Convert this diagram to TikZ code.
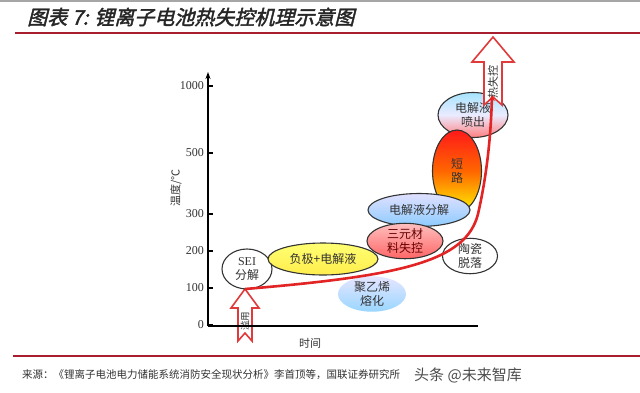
\documentclass[tikz,border=0pt]{standalone}
\usepackage{fontspec}
\setmainfont{Liberation Serif}
\newfontfamily\cjk{Noto Sans CJK SC}
\newfontfamily\cjktitle[FakeSlant=0.25,FakeBold=2]{Noto Sans CJK SC}
\usetikzlibrary{shapes.geometric,arrows.meta}
\definecolor{darkred}{HTML}{A81E2E}
\definecolor{curvered}{HTML}{E22424}
\definecolor{arrowred}{HTML}{E03A3A}
\definecolor{txt}{HTML}{333333}
\tikzset{
  ell/.style={ellipse, inner sep=0pt, draw=txt, line width=1.1pt, align=center,
    text=txt, font=\fontsize{12}{14}\selectfont\cjk},
  tick/.style={font=\fontsize{12}{12}\selectfont, text=txt, anchor=east, inner sep=1pt},
  hollow/.style={draw=arrowred, line width=1.6pt, fill=white, line join=miter},
}
\begin{document}
\begin{tikzpicture}[x=1pt,y=-1pt]
\useasboundingbox (0,0) rectangle (640,392);
\fill[white] (0,0) rectangle (640,392);
\fill[gray!70] (0,0) rectangle (640,2);
% title
\node[anchor=west, inner sep=0pt, text=black!85, font=\fontsize{20}{22}\selectfont\cjktitle] (title) at (27,17) {图表 7: 锂离子电池热失控机理示意图};
\coordinate (tl) at (15,33); \coordinate (tr) at (640,33);
\draw[darkred, line width=1.2pt] (tl) -- (tr);
% footer
\coordinate (bl) at (13,356); \coordinate (br) at (640,356);
\draw[darkred, line width=1.2pt] (bl) -- (br);
\node[anchor=west, inner sep=0pt, text=txt, font=\fontsize{10.5}{12}\selectfont\cjk] (src) at (22,375) {来源：《锂离子电池电力储能系统消防安全现状分析》李首顶等，国联证券研究所};
\node[anchor=west, inner sep=0pt, text=black!70, font=\fontsize{15}{16}\selectfont\cjk] (wm) at (414,375) {头条 @未来智库};

% bottom hollow arrow (abuse)
\draw[hollow] (245,289) -- (231,308) -- (238,308) -- (238,341) -- (245,333) -- (252,341) -- (252,308) -- (259,308) -- cycle;
\node[rotate=90, inner sep=0pt, text=txt, font=\fontsize{9.5}{10}\selectfont\cjk] (abuse) at (245,321) {滥用};

% axes
\coordinate (o) at (208,326);
\coordinate (ytop) at (208,72);
\coordinate (xend) at (478,326);
\draw[black, line width=1.4pt, -{Stealth[length=7pt,width=5pt]}] (o) -- (ytop);
\draw[black, line width=1.4pt] (o) -- (xend);
\foreach \v/\y in {1000/86, 500/153, 300/214, 200/251, 100/288, 0/325}{
  \draw[black, line width=1.1pt] (208,\y) -- (213,\y);
  \node[tick] (t\v) at (205,\y) {\v};
}
\node[rotate=90, inner sep=0pt, text=txt, font=\fontsize{11}{12}\selectfont\cjk] (ylab) at (176,188) {温度/℃};
\node[inner sep=0pt, text=txt, font=\fontsize{11}{12}\selectfont\cjk] (xlab) at (310,343) {时间};

% ellipses
\node[ell, fill=white, minimum width=50pt, minimum height=40pt] (sei) at (247,269) {\fontsize{12}{14}\selectfont\rmfamily SEI\\分解};
\node[ell, top color=yellow!55!white, bottom color=yellow!80!orange!70, minimum width=110pt, minimum height=32pt] (neg) at (323,259) {负极+电解液};
\node[ell, draw=none, top color=blue!10!white, bottom color=blue!40!cyan!40, minimum width=68pt, minimum height=30pt] (pe) at (372,294) {聚乙烯\\熔化};
\node[ell, fill=white, minimum width=55pt, minimum height=32pt] (cer) at (470,256) {陶瓷\\脱落};
\node[ell, top color=blue!30!cyan!35, bottom color=red!50!white, middle color=blue!8!white, minimum width=70pt, minimum height=45pt] (spray) at (473,115) {电解液\\喷出};
\node[ell, top color=red!90, bottom color=yellow!90!orange, middle color=orange!80!red, minimum width=49pt, minimum height=82pt] (short) at (457,171) {短\\路};
\node[ell, top color=blue!12!white, bottom color=blue!45!cyan!45, minimum width=102pt, minimum height=33pt] (dec) at (419,210) {电解液分解};
\node[ell, top color=red!25!white, bottom color=red!60!white, text=red!40!black, minimum width=76pt, minimum height=34pt] (ncm) at (405,241) {三元材\\料失控};

% top hollow arrow (thermal runaway)
\draw[hollow] (493,37) -- (472,62) -- (484,62) -- (484,105) -- (493,97) -- (502,105) -- (502,62) -- (514,62) -- cycle;
\node[rotate=90, inner sep=0pt, text=txt, font=\fontsize{11}{12}\selectfont\cjk] (tr) at (493,82) {热失控};

% red curve
\coordinate (cstart) at (245,289);
\coordinate (cmid) at (478,214);
\coordinate (cend) at (492,95);
\draw[curvered, line width=2.6pt, -{Stealth[length=6pt,width=6pt]}] (cstart) .. controls (400,276) and (466,262) .. (cmid) .. controls (488,170) and (491,130) .. (cend);
\end{tikzpicture}
\end{document}
